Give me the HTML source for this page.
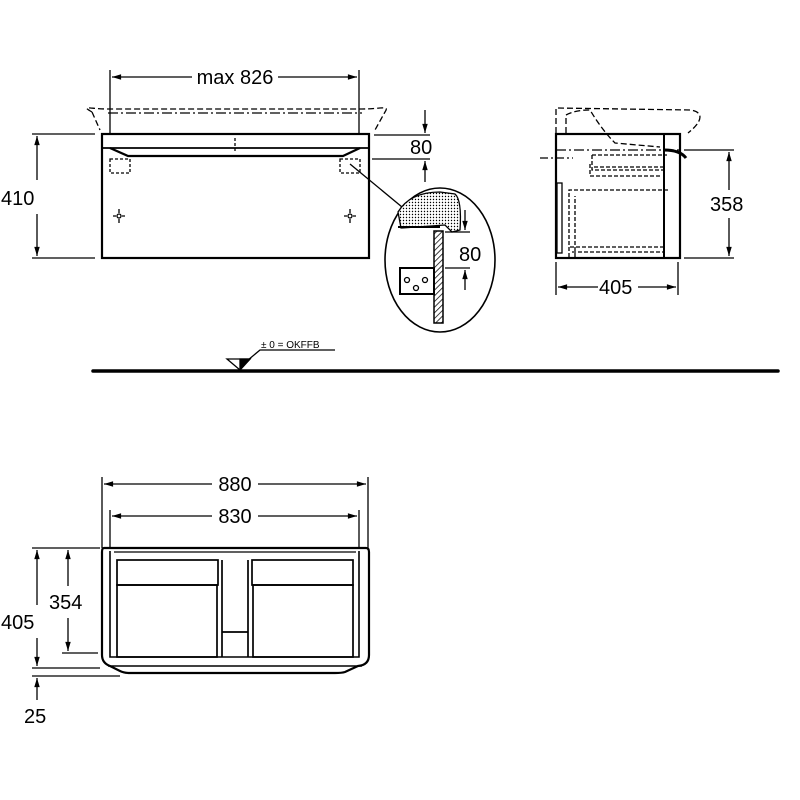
<!DOCTYPE html>
<html><head><meta charset="utf-8"><style>html,body{margin:0;padding:0;background:#fff}svg{display:block}</style></head><body>
<svg width="800" height="800" viewBox="0 0 800 800" xmlns="http://www.w3.org/2000/svg" font-family="Liberation Sans, sans-serif">
<defs>
<marker id="a" viewBox="0 0 10 10" refX="10" refY="5" markerWidth="9" markerHeight="7" orient="auto-start-reverse"><path d="M0,2 L10,5 L0,8 z" fill="#000"/></marker>
<pattern id="dots" width="3" height="3" patternUnits="userSpaceOnUse"><rect width="3" height="3" fill="#fff"/><circle cx="1.5" cy="1.5" r="0.7" fill="#000"/></pattern>
<pattern id="hatch" width="4" height="4" patternUnits="userSpaceOnUse" patternTransform="rotate(45)"><rect width="4" height="4" fill="#fff"/><line x1="0" y1="0" x2="0" y2="4" stroke="#000" stroke-width="1.5"/></pattern>
</defs>
<g stroke="#000" fill="none" stroke-width="1.3">
<!-- TOP FRONT -->
<line x1="110" y1="70" x2="110" y2="135"/>
<line x1="359" y1="70" x2="359" y2="135"/>
<line x1="112" y1="77" x2="192" y2="77" marker-start="url(#a)"/>
<line x1="278" y1="77" x2="357" y2="77" marker-end="url(#a)"/>
<path d="M92,112 C80,105 90,109 108,109 L362,109 C380,109 390,105 385,112 L375,130" stroke-dasharray="6,3"/>
<path d="M92,112 L100,130" stroke-dasharray="6,3"/>
<line x1="108" y1="113" x2="362" y2="113" stroke-dasharray="10,3,2,3"/>
<rect x="102" y="134" width="267" height="124" stroke-width="2.2"/>
<line x1="102" y1="148" x2="369" y2="148" stroke-width="1.8"/>
<path d="M110,148 L128,156 L343,156 L360,148" stroke-width="2.2"/>
<line x1="235" y1="138" x2="235" y2="152" stroke-dasharray="3,2"/>
<rect x="110" y="159" width="20" height="14" stroke-dasharray="3,2"/>
<rect x="340" y="159" width="20" height="14" stroke-dasharray="3,2"/>
<circle cx="119" cy="216" r="2"/><path d="M113,216h3M122,216h3M119,209v4M119,219v4"/>
<circle cx="350" cy="216" r="2"/><path d="M344,216h3M353,216h3M350,209v4M350,219v4"/>
<line x1="32" y1="134" x2="95" y2="134"/>
<line x1="32" y1="258" x2="95" y2="258"/>
<line x1="37" y1="136" x2="37" y2="180" marker-start="url(#a)"/>
<line x1="37" y1="214" x2="37" y2="256" marker-end="url(#a)"/>
<line x1="374" y1="135" x2="430" y2="135"/>
<line x1="372" y1="159" x2="430" y2="159"/>
<line x1="425" y1="110" x2="425" y2="133" marker-end="url(#a)"/>
<line x1="425" y1="182" x2="425" y2="161" marker-end="url(#a)"/>
<line x1="350" y1="164" x2="402" y2="207"/>
<!-- circle detail -->
<ellipse cx="440" cy="260" rx="55" ry="72" stroke-width="1.6"/>
<path d="M401,228 L398,212 Q410,192 440,192 L455,194 Q462,200 460,230 L452,232 L445,225 L402,228 Z" fill="url(#dots)"/>
<path d="M398,227 L440,227" stroke-width="2"/>
<rect x="434" y="231" width="9" height="92" fill="url(#hatch)" stroke-width="1.5"/>
<rect x="400" y="268" width="34" height="26" stroke-width="2"/>
<circle cx="407" cy="280" r="2.5"/><circle cx="425" cy="280" r="2.5"/><circle cx="416" cy="288" r="2.5"/>
<line x1="445" y1="232" x2="470" y2="232"/>
<line x1="445" y1="268" x2="470" y2="268"/>
<line x1="465" y1="210" x2="465" y2="230" marker-end="url(#a)"/>
<line x1="465" y1="290" x2="465" y2="270" marker-end="url(#a)"/>
<!-- SIDE VIEW -->
<path d="M556,133 L556,108 L690,110 C705,112 702,122 688,133" stroke-dasharray="6,3"/>
<path d="M566,133 L566,115 Q575,110 590,110 Q602,130 615,143 L660,147" stroke-dasharray="6,3"/>
<rect x="556" y="134" width="124" height="124" stroke-width="2.2"/>
<line x1="664" y1="134" x2="664" y2="258" stroke-width="2"/>
<line x1="556" y1="150" x2="680" y2="150" stroke-dasharray="10,3,2,3"/>
<line x1="540" y1="158" x2="573" y2="158" stroke-dasharray="8,3,2,3"/>
<path d="M592,155 h75 M594,167 h70 M592,155 v15 h75 M590,164 v12 h70 M590,176 h55" stroke-dasharray="4,2"/>
<path d="M569,257 V190 H670 M575,257 V196 M570,247 H664 M572,252 H664" stroke-dasharray="4,2"/>
<rect x="557" y="183" width="5" height="70"/>
<path d="M664,150 Q680,150 686,158" stroke-width="3"/>
<line x1="684" y1="150" x2="734" y2="150"/>
<line x1="684" y1="258" x2="734" y2="258"/>
<line x1="729" y1="152" x2="729" y2="190" marker-start="url(#a)"/>
<line x1="729" y1="218" x2="729" y2="256" marker-end="url(#a)"/>
<line x1="556" y1="262" x2="556" y2="295"/>
<line x1="678" y1="262" x2="678" y2="295"/>
<line x1="558" y1="287" x2="598" y2="287" marker-start="url(#a)"/>
<line x1="638" y1="287" x2="676" y2="287" marker-end="url(#a)"/>
<!-- FLOOR -->
<line x1="93" y1="371" x2="778" y2="371" stroke-width="3.5" stroke-linecap="round"/>
<path d="M227,359 L250,359 L240,370 Z" fill="#fff"/>
<path d="M240,359 L250,359 L240,370 Z" fill="#000"/>
<path d="M248,360 L260,350 L335,350"/>
<!-- BOTTOM VIEW -->
<line x1="102" y1="477" x2="102" y2="548"/>
<line x1="368" y1="477" x2="368" y2="548"/>
<line x1="110" y1="510" x2="110" y2="548"/>
<line x1="359" y1="510" x2="359" y2="548"/>
<line x1="104" y1="484" x2="212" y2="484" marker-start="url(#a)"/>
<line x1="258" y1="484" x2="366" y2="484" marker-end="url(#a)"/>
<line x1="112" y1="516" x2="212" y2="516" marker-start="url(#a)"/>
<line x1="258" y1="516" x2="357" y2="516" marker-end="url(#a)"/>
<path d="M104,548 H366 Q369,548 369,552 V655 Q369,665 358,666 L345,672 Q342,673 335,673 H130 Q124,673 120,671 L110,666 Q102,663 102,655 V552 Q102,548 104,548 Z" stroke-width="2.2"/>
<path d="M108,666 H362" stroke-width="1.5"/>
<path d="M110,551 V657 H359 V551" stroke-width="1.6"/>
<path d="M114,552 H356"/>
<rect x="117" y="560" width="101" height="25" stroke-width="1.7"/>
<rect x="252" y="560" width="101" height="25" stroke-width="1.7"/>
<rect x="117" y="585" width="100" height="72" stroke-width="1.7"/>
<rect x="253" y="585" width="100" height="72" stroke-width="1.7"/>
<path d="M222,560 V657 M248,560 V657 M222,632 H248" stroke-width="1.7"/>
<line x1="32" y1="548" x2="100" y2="548"/>
<line x1="32" y1="668" x2="100" y2="668"/>
<line x1="62" y1="653" x2="98" y2="653"/>
<line x1="32" y1="676" x2="120" y2="676"/>
<line x1="37" y1="550" x2="37" y2="605" marker-start="url(#a)"/>
<line x1="37" y1="638" x2="37" y2="666" marker-end="url(#a)"/>
<line x1="68" y1="550" x2="68" y2="586" marker-start="url(#a)"/>
<line x1="68" y1="618" x2="68" y2="651" marker-end="url(#a)"/>
<line x1="37" y1="700" x2="37" y2="678" marker-end="url(#a)"/>
</g>
<g fill="#000" font-size="20">
<text x="235" y="84" text-anchor="middle">max 826</text>
<text x="1" y="205">410</text>
<text x="410" y="154">80</text>
<text x="459" y="261">80</text>
<text x="710" y="211">358</text>
<text x="599" y="294">405</text>
<text x="235" y="491" text-anchor="middle">880</text>
<text x="235" y="523" text-anchor="middle">830</text>
<text x="49" y="609">354</text>
<text x="1" y="629">405</text>
<text x="24" y="723">25</text>
<text x="261" y="348" font-size="10">± 0 = OKFFB</text>
</g>
</svg>
</body></html>
